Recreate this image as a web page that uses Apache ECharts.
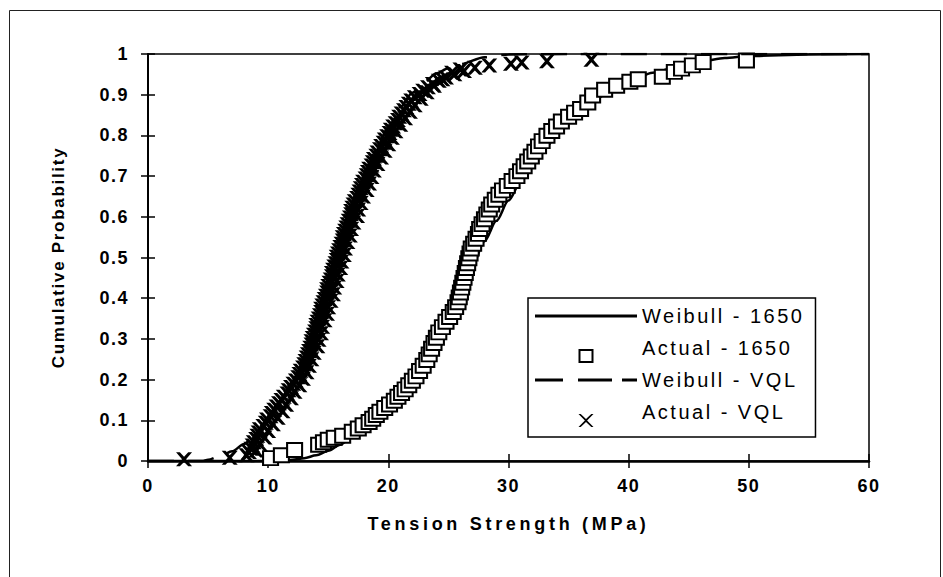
<!DOCTYPE html>
<html>
<head>
<meta charset="utf-8">
<script src="https://cdn.jsdelivr.net/npm/echarts@6/dist/echarts.min.js"></script>
<style>
html,body{margin:0;padding:0;background:#fff;}
#chart{width:943px;height:577px;}
</style>
</head>
<body>
<div id="chart"></div>
<script>
// ---- axis definitions (min, max, step) ----
const xAxisRange = [0, 60, 10];
const yAxisRange = [0, 1, 0.1];
const seriesNames = ['Weibull - 1650', 'Actual - 1650', 'Weibull - VQL', 'Actual - VQL'];
const xAxisTitle = 'Tension Strength (MPa)';
const yAxisTitle = 'Cumulative Probability';

// ---- Weibull fit, 1650 ----
const weibull1650Strength = [0, 10, 11, 12, 13, 14, 15, 16, 17, 18, 19, 20, 21, 22, 23, 24, 25, 26, 27, 28, 29, 30, 31, 32, 33, 34, 35, 36, 37, 38, 39, 40, 42, 44, 46, 48, 50, 55, 60];
const weibull1650Prob = [0, 0, 0.001, 0.003, 0.007, 0.014, 0.025, 0.04, 0.06, 0.085, 0.113, 0.145, 0.18, 0.22, 0.265, 0.315, 0.37, 0.425, 0.48, 0.54, 0.59, 0.64, 0.685, 0.728, 0.766, 0.80, 0.83, 0.857, 0.88, 0.90, 0.918, 0.932, 0.954, 0.968, 0.982, 0.99, 0.995, 0.999, 1];

// ---- Actual, 1650 ----
const actual1650Strength = [10.2,11.1,12.2,14.2,14.6,15.0,15.5,16.2,17.0,17.5,
  17.9,18.4,18.7,19.0,19.3,19.7,20.1,20.5,20.8,21.1,
  21.4,21.7,22.0,22.3,22.6,22.9,23.2,23.4,23.6,23.8,
  24.0,24.2,24.5,24.8,25.1,25.4,25.6,25.8,25.9,26.0,
  26.1,26.2,26.3,26.4,26.5,26.6,26.7,26.8,26.9,27.1,
  27.3,27.5,27.6,27.8,28.0,28.2,28.4,28.6,28.9,29.2,
  29.5,29.9,30.3,30.7,31.0,31.3,31.6,31.9,32.2,32.5,
  32.8,33.2,33.6,34.0,34.4,35.0,35.5,36.0,36.6,37.0,
  38.0,39.0,40.1,40.8,42.8,43.8,44.4,45.3,46.2,49.8];
const actual1650Prob = [0.007,0.014,0.027,0.040,0.046,0.052,0.057,0.062,0.072,0.080,
  0.088,0.096,0.104,0.113,0.121,0.130,0.139,0.148,0.158,0.167,
  0.176,0.186,0.197,0.208,0.221,0.234,0.248,0.262,0.276,0.290,
  0.303,0.316,0.329,0.342,0.354,0.366,0.378,0.390,0.402,0.414,
  0.426,0.438,0.450,0.462,0.474,0.486,0.498,0.510,0.522,0.534,
  0.546,0.558,0.570,0.582,0.594,0.606,0.618,0.630,0.642,0.654,
  0.665,0.676,0.688,0.700,0.712,0.724,0.736,0.748,0.760,0.773,
  0.786,0.799,0.811,0.822,0.834,0.846,0.856,0.865,0.881,0.898,
  0.912,0.922,0.932,0.938,0.944,0.956,0.964,0.972,0.980,0.984];

// ---- Weibull fit, VQL ----
const weibullVqlStrength = [0, 4.5, 5, 6, 7, 8, 9, 10, 11, 12, 13, 14, 15, 16, 17, 18, 19, 20, 21, 22, 23, 24, 25, 26, 28, 30, 35, 60];
const weibullVqlProb = [0, 0, 0.003, 0.012, 0.024, 0.042, 0.068, 0.1, 0.145, 0.195, 0.255, 0.33, 0.42, 0.52, 0.615, 0.70, 0.77, 0.82, 0.87, 0.905, 0.932, 0.952, 0.965, 0.975, 0.992, 0.999, 1, 1];

// ---- Actual, VQL ----
const actualVqlStrength = [3.0, 6.8,
  8.2,8.4,8.6,8.7,8.8,9.0,9.1,9.2,9.3,9.6,
  9.8,9.9,10.2,10.3,10.5,10.7,10.9,11.1,11.3,11.6,
  11.7,11.9,12.1,12.3,12.5,12.6,12.7,12.9,13.0,13.1,
  13.2,13.3,13.4,13.5,13.6,13.6,13.7,13.8,13.9,14.0,
  14.0,14.1,14.2,14.3,14.4,14.4,14.5,14.6,14.7,14.8,
  14.9,14.9,15.0,15.1,15.2,15.3,15.3,15.4,15.5,15.6,
  15.7,15.7,15.8,15.9,16.0,16.1,16.2,16.2,16.3,16.4,
  16.5,16.6,16.7,16.8,16.9,16.9,17.0,17.1,17.2,17.4,
  17.5,17.6,17.7,17.8,17.9,18.1,18.2,18.3,18.4,18.6,
  18.7,18.8,19.0,19.1,19.3,19.4,19.6,19.7,19.9,20.1,
  20.2,20.4,20.6,20.8,20.9,21.1,21.3,21.5,21.7,21.9,
  22.2,22.6,22.9,23.3,23.7,24.2,24.8,25.5,26.3,27.2,
  28.4, 30.2, 31.1, 33.2, 36.9,
  9.0,9.3,9.7,10.0,10.4,10.8,11.2,11.5,11.9,12.2,
  12.6,12.9,13.2,13.4,13.6,13.8,14.1,14.2,14.4,14.5,
  14.7,14.9,15.0,15.2,15.4,15.5,15.7,15.8,16.0,16.1,
  16.3,16.4,16.6,16.8,16.9,17.1,17.4,17.5,17.7,17.9,
  18.2,18.4,18.6,18.8,19.1,19.4,19.7,20.0,20.3,20.6,
  21.0,21.4,21.8,22.2,22.7,23.2,23.8,24.5,25.3,26.0];
const actualVqlProb = [0.004, 0.008,
  0.014,0.022,0.030,0.038,0.046,0.054,0.062,0.070,0.078,0.086,
  0.094,0.102,0.110,0.118,0.126,0.134,0.142,0.150,0.158,0.166,
  0.174,0.182,0.190,0.198,0.206,0.214,0.222,0.230,0.238,0.246,
  0.254,0.262,0.270,0.278,0.286,0.294,0.302,0.310,0.318,0.326,
  0.334,0.342,0.350,0.358,0.366,0.374,0.382,0.390,0.398,0.406,
  0.414,0.422,0.430,0.438,0.446,0.454,0.462,0.470,0.478,0.486,
  0.494,0.502,0.510,0.518,0.526,0.534,0.542,0.550,0.558,0.566,
  0.574,0.582,0.590,0.598,0.606,0.614,0.622,0.630,0.638,0.646,
  0.654,0.662,0.670,0.678,0.686,0.694,0.702,0.710,0.718,0.726,
  0.734,0.742,0.750,0.758,0.766,0.774,0.782,0.790,0.798,0.806,
  0.814,0.822,0.830,0.838,0.846,0.854,0.862,0.870,0.878,0.886,
  0.894,0.902,0.910,0.918,0.926,0.934,0.942,0.950,0.958,0.966,
  0.972, 0.976, 0.979, 0.982, 0.986,
  0.026,0.042,0.058,0.074,0.090,0.106,0.122,0.138,0.154,0.170,
  0.186,0.202,0.218,0.234,0.250,0.266,0.282,0.298,0.314,0.330,
  0.346,0.362,0.378,0.394,0.410,0.426,0.442,0.458,0.474,0.490,
  0.506,0.522,0.538,0.554,0.570,0.586,0.602,0.618,0.634,0.650,
  0.666,0.682,0.698,0.714,0.730,0.746,0.762,0.778,0.794,0.810,
  0.826,0.842,0.858,0.874,0.890,0.906,0.922,0.938,0.954,0.962];

function zip(a, b) { return a.map((v, i) => [v, b[i]]); }

const FONT = "'Liberation Sans', Arial, sans-serif";
const X_PATH = 'path://M0,0 L3.8,0 L8,4.4 L12.2,0 L16,0 L10,7 L16,14 L12.2,14 L8,9.6 L3.8,14 L0,14 L6,7 Z';

const chart = echarts.init(document.getElementById('chart'), null, { renderer: 'svg' });

function axisPair(range, isX) {
  const common = {
    type: 'value', min: range[0], max: range[1], interval: range[2],
    splitLine: { show: false }, gridIndex: 0
  };
  const main = Object.assign({}, common, {
    position: isX ? 'bottom' : 'left',
    axisLine: { show: true, onZero: false, lineStyle: { color: '#000', width: isX ? 2.5 : 2 } },
    axisTick: { show: true, inside: false, length: 7, lineStyle: { color: '#000', width: 1.5 } },
    axisLabel: { show: true, color: '#000', fontSize: 18, fontWeight: 'bold', fontFamily: FONT, margin: isX ? 16 : 19 },
    name: isX ? xAxisTitle : yAxisTitle,
    nameLocation: 'middle',
    nameGap: isX ? 54 : 81,
    nameTextStyle: { color: '#000', fontSize: isX ? 18 : 17, fontWeight: 'bold', fontFamily: FONT }
  });
  const inner = Object.assign({}, common, {
    position: isX ? 'bottom' : 'left',
    axisLine: { show: false },
    axisTick: { show: true, inside: true, length: 7, lineStyle: { color: '#000', width: 1.5 } },
    axisLabel: { show: false }
  });
  return [main, inner];
}

const option = {
  animation: false,
  backgroundColor: '#fff',
  grid: { left: 148, top: 54, width: 721, height: 407, show: true, borderColor: '#000', borderWidth: 1.5, backgroundColor: 'transparent', containLabel: false },
  xAxis: axisPair(xAxisRange, true),
  yAxis: axisPair(yAxisRange, false),
  graphic: [{
    type: 'rect', silent: true, z: -10,
    shape: { x: 9.5, y: 10.5, width: 931, height: 620 },
    style: { fill: 'none', stroke: '#222', lineWidth: 1 }
  }],
  legend: {
    show: true,
    orient: 'vertical',
    left: 528, top: 298,
    padding: [3, 46, 10, 7],
    itemWidth: 102, itemHeight: 30, itemGap: 2,
    borderColor: '#000', borderWidth: 1.5, backgroundColor: '#fff',
    selectedMode: false,
    itemStyle: { borderWidth: 0, color: '#000' },
    textStyle: { color: '#000', fontSize: 20, lineHeight: 30, fontFamily: FONT },
    data: [
      { name: seriesNames[0], icon: 'path://M0,0 H102 V3 H0 Z' },
      { name: seriesNames[1], icon: 'path://M7.5,0 M0,16 H15 V30 H0 Z M2,18 V28 H13 V18 Z' },
      { name: seriesNames[2], icon: 'path://M0,0 H28 V3 H0 Z M43,0 H77 V3 H43 Z M87,0 H102 V3 H87 Z' },
      { name: seriesNames[3], icon: 'path://M7.5,0 M0,17 L2.2,17 L7.5,22.1 L12.8,17 L15,17 L8.6,23.5 L15,30 L12.8,30 L7.5,24.9 L2.2,30 L0,30 L6.4,23.5 Z' }
    ]
  },
  series: [
    {
      name: seriesNames[0], type: 'line', xAxisIndex: 0, yAxisIndex: 0,
      data: zip(weibull1650Strength, weibull1650Prob),
      symbol: 'none', showSymbol: false, smooth: 0.3, smoothMonotone: 'x',
      lineStyle: { color: '#000', width: 2.5 }, itemStyle: { color: '#000' }, z: 2
    },
    {
      name: seriesNames[1], type: 'scatter', xAxisIndex: 0, yAxisIndex: 0,
      data: zip(actual1650Strength, actual1650Prob),
      symbol: 'emptyRect', symbolSize: [15, 14],
      itemStyle: { color: '#000', borderColor: '#000', borderWidth: 1.5, opacity: 1 }, z: 3
    },
    {
      name: seriesNames[2], type: 'line', xAxisIndex: 0, yAxisIndex: 0,
      data: zip(weibullVqlStrength, weibullVqlProb),
      symbol: 'none', showSymbol: false, smooth: 0.3, smoothMonotone: 'x',
      lineStyle: { color: '#000', width: 2.5, type: [26, 14] }, itemStyle: { color: '#000' }, z: 4
    },
    {
      name: seriesNames[3], type: 'scatter', xAxisIndex: 0, yAxisIndex: 0,
      data: zip(actualVqlStrength, actualVqlProb),
      symbol: X_PATH, symbolSize: [16, 14],
      itemStyle: { color: '#000', borderWidth: 0, opacity: 1 }, z: 5
    }
  ]
};

chart.setOption(option);

function applySpacing() {
  document.querySelectorAll('#chart text').forEach(function (t) {
    const s = (t.textContent || '').trim();
    let ls = null;
    if (s === xAxisTitle) ls = 3.7;
    else if (s === yAxisTitle) ls = 1.7;
    else if (/^(Weibull|Actual)/.test(s)) ls = 2.5;
    else if (/^[0-9.]+$/.test(s)) ls = 1.5;
    if (ls !== null) t.style.letterSpacing = ls + 'px';
  });
}
applySpacing();
chart.on('finished', applySpacing);
setTimeout(applySpacing, 50);
</script>
</body>
</html>
